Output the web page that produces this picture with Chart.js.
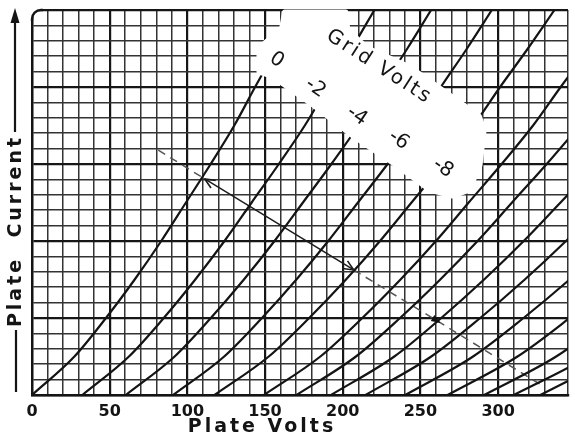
<!DOCTYPE html>
<html>
<head>
<meta charset="utf-8">
<script src="https://cdn.jsdelivr.net/npm/chart.js@4.4.1/dist/chart.umd.min.js"></script>
<style>
  html, body { margin: 0; padding: 0; background: #fff; }
  #wrap { width: 575px; height: 439px; }
</style>
</head>
<body>
<div id="wrap"><canvas id="tube-chart" width="575" height="439"></canvas></div>
<script>
const plateCurrent = [0, 2.5, 5, 7.5, 10, 12.5, 15, 17.5, 20, 22.5, 25];

const gridVolts = [0, -2, -4, -6, -8, -10, -12, -14, -16, -18, -20, -22, -24, -26];

// plate volts of each grid-volt curve at the current levels above
const voltsGrid0 = [0, 27.3, 47.6, 66.1, 83.2, 99.1, 115.0, 130.2, 143.6, 157.6];
const voltsGrid2 = [32.4, 62.4, 84.8, 105.1, 123.9, 141.4, 158.9, 175.6, 190.4, 205.8, 220.4];
const voltsGrid4 = [60.4, 91.8, 115.1, 136.4, 156.1, 174.4, 192.7, 210.1, 225.5, 241.6, 256.9];
const voltsGrid6 = [90.9, 123.7, 148.0, 170.2, 190.7, 209.8, 228.9, 247.1, 263.2, 280.0, 296.0];
const voltsGrid8 = [117.5, 152.4, 178.4, 202.1, 224.0, 244.3, 264.7, 284.2, 301.3, 319.2, 336.3];
const voltsGrid10 = [149.3, 185.6, 212.6, 237.2, 260.0, 281.1, 302.3, 322.5, 340.3, 358.9];
const voltsGrid12 = [170.3, 208.5, 236.9, 262.8, 286.8, 309.0, 331.3, 352.6];
const voltsGrid14 = [192.5, 233.2, 263.4, 291.0, 316.5, 340.2, 363.9];
const voltsGrid16 = [214.7, 257.0, 288.5, 317.2, 343.7, 368.3];
const voltsGrid18 = [240.2, 283.9, 316.4, 346.0, 373.3];
const voltsGrid20 = [267.5, 312.5, 346.0, 376.6];
const voltsGrid22 = [291.0, 337.4, 371.9];
const voltsGrid24 = [310.0, 357.8, 393.3];
const voltsGrid26 = [327.2, 376.3];

// load line, arrow tips at index 1 and 2, filled marker at index 3
const loadVolts = [81.3, 111.2, 207.1, 263.0, 327.8];
const loadCurrent = [15.9, 14.03, 8.12, 4.68, 0.65];

const xTickLabels = [0, 50, 100, 150, 200, 250, 300];
const curveLabels = ['0', '-2', '-4', '-6', '-8'];

const curveVolts = [voltsGrid0, voltsGrid2, voltsGrid4, voltsGrid6, voltsGrid8, voltsGrid10, voltsGrid12,
  voltsGrid14, voltsGrid16, voltsGrid18, voltsGrid20, voltsGrid22, voltsGrid24, voltsGrid26];

// white label patch that hides the curves, outline in volts / current
const patchOutline = [
  [146.1, 20.97], [146.1, 22.53], [160.7, 23.83], [162.6, 24.87], [202.0, 24.87],
  [203.3, 23.70], [216.0, 22.53], [243.3, 21.30], [264.3, 19.81], [287.8, 18.12],
  [291.0, 17.21], [288.4, 14.94], [281.4, 13.31], [270.6, 12.92], [256.0, 13.31],
  [232.5, 15.06], [206.5, 16.82], [181.7, 18.77], [165.2, 19.94], [154.4, 20.71]
];
const labelSpots = [[157.5, 21.75], [182.5, 19.94], [209.2, 18.12], [236.0, 16.56], [264.5, 14.74]];
const gridVoltsSpot = [223.5, 21.3];

const INK = '#141414';

function buildDatasets() {
  const sets = curveVolts.map((volts, i) => ({
    label: gridVolts[i] + ' V',
    data: volts.map((v, k) => ({ x: v, y: plateCurrent[k] })),
    borderColor: INK,
    borderWidth: 2.2,
    pointRadius: 0,
    cubicInterpolationMode: 'monotone',
    fill: false,
  }));
  sets.push({
    label: 'load',
    data: loadVolts.map((v, k) => ({ x: v, y: loadCurrent[k] })),
    borderColor: '#2a2a2a',
    borderWidth: 1.5,
    pointRadius: 0,
    tension: 0,
    segment: {
      borderDash: (c) => (c.p0DataIndex === 1 ? [] : [8, 6]),
      borderColor: (c) => (c.p0DataIndex === 1 ? '#1c1c1c' : '#555'),
    },
  });
  return sets;
}

function arrowHead(ctx, tip, from, len, spread, filled) {
  const ang = Math.atan2(tip[1] - from[1], tip[0] - from[0]);
  const a1 = [tip[0] - len * Math.cos(ang - spread), tip[1] - len * Math.sin(ang - spread)];
  const a2 = [tip[0] - len * Math.cos(ang + spread), tip[1] - len * Math.sin(ang + spread)];
  ctx.beginPath();
  ctx.moveTo(a1[0], a1[1]);
  ctx.lineTo(tip[0], tip[1]);
  ctx.lineTo(a2[0], a2[1]);
  if (filled) {
    ctx.closePath();
    ctx.fill();
  } else {
    ctx.stroke();
  }
}

const paperPlugin = {
  id: 'paper',
  afterDatasetsDraw(chart) {
    const { ctx, chartArea: area, scales: { x, y } } = chart;
    const pt = (p) => [x.getPixelForValue(p[0]), y.getPixelForValue(p[1])];

    ctx.save();
    // arrows on the load line
    const load = loadVolts.map((v, k) => pt([v, loadCurrent[k]]));
    ctx.strokeStyle = '#1c1c1c';
    ctx.fillStyle = '#111';
    ctx.lineWidth = 1.6;
    arrowHead(ctx, load[1], load[2], 11, 0.42, false);
    arrowHead(ctx, load[2], load[1], 11, 0.42, false);
    arrowHead(ctx, load[3], load[1], 10, 0.35, true);

    // white label patch
    ctx.beginPath();
    patchOutline.forEach((p, k) => {
      const q = pt(p);
      if (k === 0) ctx.moveTo(q[0], q[1]); else ctx.lineTo(q[0], q[1]);
    });
    ctx.closePath();
    ctx.fillStyle = '#fff';
    ctx.strokeStyle = '#fff';
    ctx.lineJoin = 'round';
    ctx.lineWidth = 5;
    ctx.fill();
    ctx.stroke();

    ctx.fillStyle = INK;
    ctx.textAlign = 'center';
    ctx.textBaseline = 'middle';
    ctx.font = '20px "DejaVu Sans"';
    labelSpots.forEach((p, k) => {
      const q = pt(p);
      ctx.save();
      ctx.translate(q[0], q[1]);
      ctx.rotate(0.6);
      ctx.fillText(curveLabels[k], 0, 0);
      ctx.restore();
    });
    const g = pt(gridVoltsSpot);
    ctx.save();
    ctx.translate(g[0], g[1]);
    ctx.rotate(0.57);
    ctx.font = '20px "DejaVu Sans"';
    ctx.letterSpacing = '2.5px';
    ctx.fillText('Grid Volts', 0, 0);
    ctx.restore();

    // rounded top-left corner of the sheet
    const r = 9;
    ctx.beginPath();
    ctx.moveTo(area.left - 3, area.top - 3);
    ctx.lineTo(area.left + r, area.top - 3);
    ctx.lineTo(area.left + r, area.top);
    ctx.arcTo(area.left, area.top, area.left, area.top + r, r);
    ctx.lineTo(area.left - 3, area.top + r);
    ctx.closePath();
    ctx.fillStyle = '#fff';
    ctx.fill();
    ctx.beginPath();
    ctx.moveTo(area.left + r + 2, area.top);
    ctx.arcTo(area.left, area.top, area.left, area.top + r + 2, r);
    ctx.lineTo(area.left, area.top + r + 2);
    ctx.strokeStyle = INK;
    ctx.lineWidth = 2.4;
    ctx.stroke();
    ctx.restore();
  },
  afterDraw(chart) {
    const { ctx } = chart;
    ctx.save();
    ctx.fillStyle = INK;
    ctx.strokeStyle = INK;
    ctx.textAlign = 'center';
    ctx.textBaseline = 'middle';
    ctx.font = 'bold 19px "DejaVu Sans"';
    ctx.letterSpacing = '3px';
    ctx.fillText('Plate Volts', 262, 427);

    ctx.save();
    ctx.translate(16, 231);
    ctx.rotate(-Math.PI / 2);
    ctx.fillText('Plate  Current', 0, 0);
    ctx.restore();

    ctx.lineWidth = 2.2;
    ctx.beginPath();
    ctx.moveTo(16, 330);
    ctx.lineTo(16, 392);
    ctx.moveTo(15, 132);
    ctx.lineTo(15, 20);
    ctx.stroke();
    ctx.beginPath();
    ctx.moveTo(15, 8);
    ctx.lineTo(10.5, 23);
    ctx.lineTo(19.5, 23);
    ctx.closePath();
    ctx.fill();
    ctx.restore();
  },
};

function gridColor(step) {
  return (c) => (c.tick && c.tick.value % step === 0 ? '#161616' : '#333');
}
function gridWidth(step) {
  return (c) => (c.tick && c.tick.value % step === 0 ? 2.2 : 1.5);
}

const ctx = document.getElementById('tube-chart').getContext('2d');
new Chart(ctx, {
  type: 'line',
  data: { datasets: buildDatasets() },
  options: {
    responsive: false,
    animation: false,
    devicePixelRatio: 1,
    layout: { padding: { top: 10, right: 0, left: 0, bottom: 0 } },
    plugins: { legend: { display: false }, tooltip: { enabled: false } },
    scales: {
      x: {
        type: 'linear',
        min: 0,
        max: 345,
        afterFit: (s) => { s.height = 44; },
        ticks: {
          stepSize: 10,
          autoSkip: false,
          maxRotation: 0,
          padding: 7,
          color: INK,
          font: { family: 'DejaVu Sans', weight: 'bold', size: 16 },
          callback: (v) => (xTickLabels.includes(v) ? String(v) : ''),
        },
        grid: { drawTicks: false, color: gridColor(50), lineWidth: gridWidth(50) },
        border: { color: INK, width: 2.4 },
      },
      y: {
        type: 'linear',
        min: 0,
        max: 25,
        afterFit: (s) => { s.width = 32; },
        ticks: { stepSize: 1, display: false },
        grid: { drawTicks: false, color: gridColor(5), lineWidth: gridWidth(5) },
        border: { color: INK, width: 2.4 },
      },
    },
  },
  plugins: [paperPlugin],
});
</script>
</body>
</html>
